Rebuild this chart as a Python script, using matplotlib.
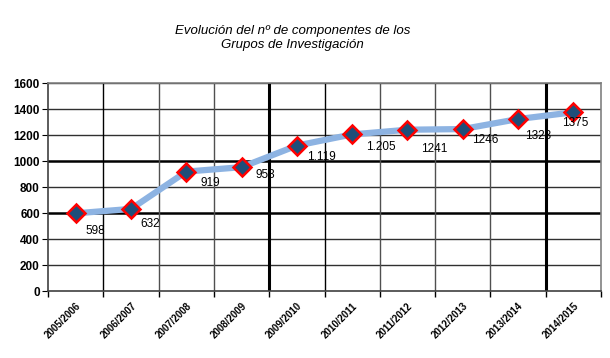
import matplotlib.pyplot as plt
import matplotlib.font_manager as fm

# datos del grafico
cursos = ['2005/2006', '2006/2007', '2007/2008', '2008/2009', '2009/2010',
          '2010/2011', '2011/2012', '2012/2013', '2013/2014', '2014/2015']
componentes = [598, 632, 919, 953, 1119, 1205, 1241, 1246, 1323, 1375]
etiquetas = ['598', '632', '919', '953', '1.119', '1.205', '1241', '1246', '1323', '1375']

# desplazamiento de cada etiqueta (puntos)
offsets = [(7, -13), (7, -11), (10, -8), (10, -6), (7, -8),
           (10, -9), (10, -14), (7, -8), (5, -12), (-8, -8)]

names = {f.name for f in fm.fontManager.ttflist}
base = 'Liberation Sans Narrow' if 'Liberation Sans Narrow' in names else 'Liberation Sans'
plt.rcParams['font.family'] = [base, 'DejaVu Sans']

fig = plt.figure(figsize=(6.1, 3.58), dpi=100)
ax = fig.add_axes([0.079, 0.187, 0.906, 0.581])

x = list(range(len(cursos)))
ax.plot(x, componentes, color='#8db3e2', lw=4.5, zorder=3)
ax.plot(x, componentes, ls='none', marker='D', ms=9, mfc='#1f4e79',
        mec='#ff0000', mew=1.8, zorder=4)

for xi, yi, lab, off in zip(x, componentes, etiquetas, offsets):
    ax.annotate(lab, (xi, yi), xytext=off, textcoords='offset points',
                ha='left', va='center', fontsize=8.5, zorder=5)

ax.set_xlim(-0.5, len(cursos) - 0.5)
ax.set_ylim(0, 1600)
ax.set_yticks(range(0, 1601, 200))

# rejilla
for v in range(200, 1601, 200):
    lw = 1.8 if v in (600, 1000) else 1.0
    c = 'black' if v in (600, 1000) else '#303030'
    ax.axhline(v, color=c, lw=lw, zorder=1)
for i in range(1, len(cursos)):
    b = i - 0.5
    lw = 2.2 if i in (4, 9) else 1.0
    c = 'black' if i in (1, 4, 5, 9) else '#505050'
    ax.axvline(b, color=c, lw=lw, zorder=1)

ax.set_xticks([i - 0.5 for i in range(len(cursos) + 1)], minor=True)
ax.set_xticks(x)
ax.set_xticklabels(cursos, rotation=45, ha='right', rotation_mode='anchor',
                   fontsize=7, weight='bold')
ax.tick_params(axis='x', which='major', length=0, pad=7)
ax.tick_params(axis='x', which='minor', length=4, width=1, direction='out')
ax.tick_params(axis='y', length=4, labelsize=8.5, pad=2)
for t in ax.get_yticklabels():
    t.set_fontweight('bold')

for s in ['top', 'right']:
    ax.spines[s].set_color('#808080')
    ax.spines[s].set_linewidth(1.2)
for s in ['left', 'bottom']:
    ax.spines[s].set_color('#404040')
    ax.spines[s].set_linewidth(1.2)

fig.text(0.48, 0.893, 'Evolución del nº de componentes de los\nGrupos de Investigación',
         ha='center', va='center', fontsize=9.5, style='italic', linespacing=1.25)

fig.savefig('out.png', dpi=100)
